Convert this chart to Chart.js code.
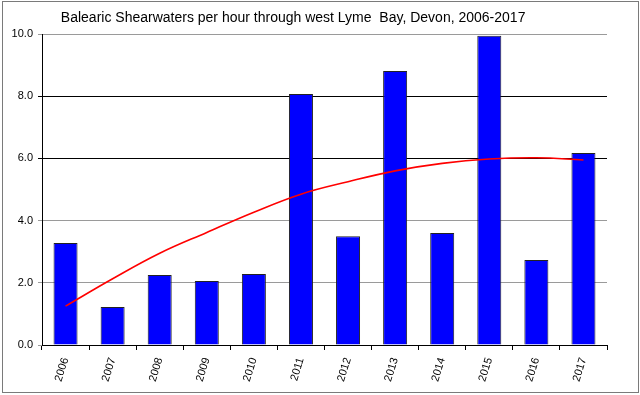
<!DOCTYPE html>
<html>
<head>
<meta charset="utf-8">
<script src="https://cdn.jsdelivr.net/npm/chart.js@4"></script>
<style>
  html, body { margin: 0; padding: 0; background: #fff; }
  #wrap { width: 640px; height: 395px; position: relative; }
</style>
</head>
<body>
<div id="wrap"><canvas id="c" width="640" height="395"></canvas></div>
<script>
const chartTitle = "Balearic Shearwaters per hour through west Lyme  Bay, Devon, 2006-2017";
const years = ["2006","2007","2008","2009","2010","2011","2012","2013","2014","2015","2016","2017"];
const ratePerHour = [3.28, 1.22, 2.25, 2.06, 2.28, 8.07, 3.50, 8.81, 3.60, 9.94, 2.73, 6.17];
const trendLine = [1.25, 2.13, 2.95, 3.62, 4.27, 4.85, 5.25, 5.60, 5.84, 5.98, 6.02, 5.95];
const darkGridValues = [6, 8];

const framePlugin = {
  id: 'frame',
  beforeDraw(chart) {
    const ctx = chart.ctx;
    ctx.save();
    ctx.fillStyle = '#fff';
    ctx.fillRect(0, 0, chart.width, chart.height);
    ctx.strokeStyle = '#7a7a7a';
    ctx.lineWidth = 1;
    ctx.strokeRect(2.5, 1.5, chart.width - 4, chart.height - 4);
    ctx.restore();
  },
  afterDraw(chart) {
    const ctx = chart.ctx;
    ctx.save();
    ctx.fillStyle = '#000';
    ctx.font = '14px "Liberation Sans", Arial, sans-serif';
    ctx.textAlign = 'center';
    ctx.textBaseline = 'middle';
    ctx.fillText(chartTitle, chart.width * 0.458, 18);
    ctx.restore();
  }
};

new Chart(document.getElementById('c'), {
  type: 'bar',
  data: {
    labels: years,
    datasets: [
      {
        type: 'line',
        data: trendLine,
        borderColor: '#ff0000',
        borderWidth: 1.6,
        pointRadius: 0,
        tension: 0.4,
        fill: false,
        order: 0
      },
      {
        type: 'bar',
        data: ratePerHour,
        backgroundColor: '#0000ff',
        borderColor: '#222222',
        borderWidth: 1,
        barPercentage: 0.51,
        categoryPercentage: 1.0,
        order: 1
      }
    ]
  },
  options: {
    responsive: false,
    animation: false,
    devicePixelRatio: 1,
    layout: { padding: { left: 0, right: 33, top: 34, bottom: 0 } },
    plugins: {
      legend: { display: false },
      title: { display: false },
      tooltip: { enabled: false }
    },
    scales: {
      x: {
        offset: true,
        afterFit(scale) { scale.height = 50; },
        grid: {
          drawOnChartArea: false,
          offset: true,
          tickLength: 5,
          color: '#000'
        },
        border: { color: '#000', width: 1 },
        ticks: {
          color: '#000',
          font: { family: '"Liberation Sans", Arial, sans-serif', size: 11 },
          minRotation: 73,
          maxRotation: 73,
          padding: 6
        }
      },
      y: {
        min: 0,
        max: 10,
        afterFit(scale) { scale.width = 42; },
        grid: {
          tickLength: 4,
          color: (ctx) => (ctx.tick && darkGridValues.includes(ctx.tick.value)) ? '#000' : '#9a9a9a'
        },
        border: { color: '#000', width: 1 },
        ticks: {
          stepSize: 2,
          color: '#000',
          padding: 5,
          font: { family: '"Liberation Sans", Arial, sans-serif', size: 11 },
          callback: (v) => Number(v).toFixed(1)
        }
      }
    }
  },
  plugins: [framePlugin]
});
</script>
</body>
</html>
